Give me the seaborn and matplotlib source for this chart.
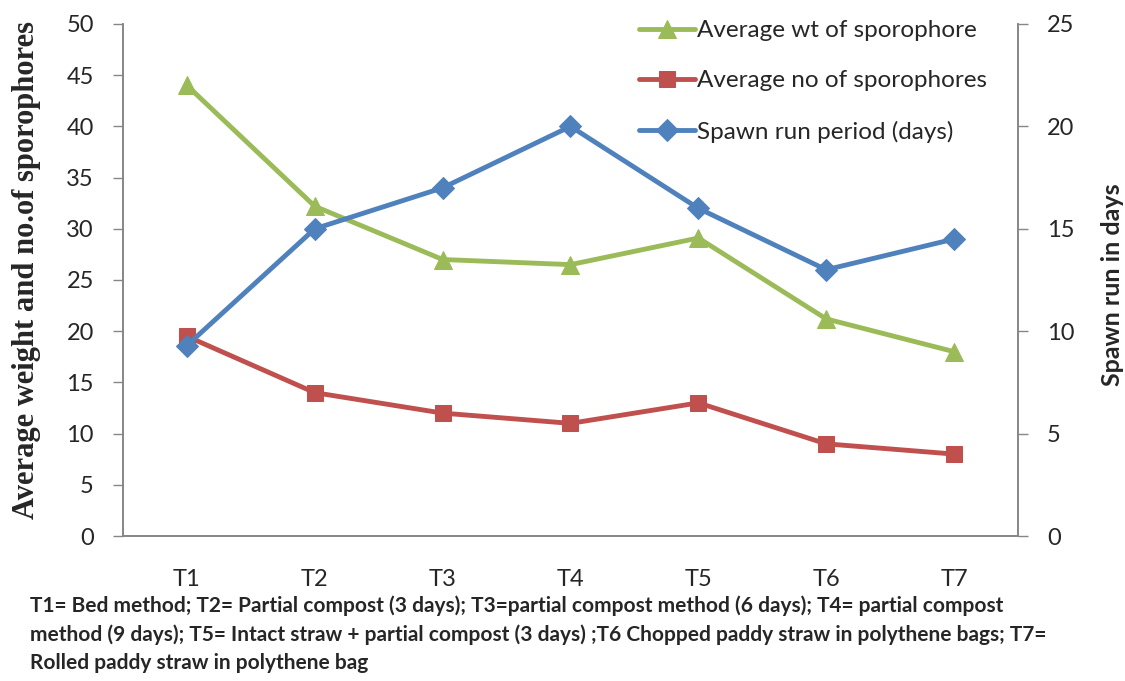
import matplotlib.pyplot as plt
import seaborn as sns
import numpy as np

categories = ["T1", "T2", "T3", "T4", "T5", "T6", "T7"]
avg_wt = [44, 32.2, 27, 26.5, 29.1, 21.2, 18]
avg_no = [19.5, 14, 12, 11, 13, 9, 8]
spawn_run = [9.3, 15, 17, 20, 16, 13, 14.5]

caption = ("T1= Bed method; T2= Partial compost (3 days); T3=partial compost method (6 days); T4= partial compost\n"
           "method (9 days); T5= Intact straw + partial compost (3 days) ;T6 Chopped paddy straw in polythene bags; T7=\n"
           "Rolled paddy straw in polythene bag")

sns.set_style("white")
plt.rcParams['font.family'] = ['Lato', 'DejaVu Sans']

GREEN, RED, BLUE = "#9BBB59", "#C0504D", "#4F81BD"
GREY = "#868686"

fig = plt.figure(figsize=(11.25, 6.81), dpi=100)
ax = fig.add_axes([0.1093, 0.2129, 0.7956, 0.7519])
ax2 = ax.twinx()

x = np.arange(len(categories))

sns.lineplot(x=x, y=avg_wt, ax=ax, color=GREEN, marker="^", markersize=13,
             markeredgecolor=GREEN, linewidth=3.5, label="Average wt of sporophore", legend=False)
sns.lineplot(x=x, y=avg_no, ax=ax, color=RED, marker="s", markersize=12,
             markeredgecolor=RED, linewidth=3.5, label="Average no of sporophores", legend=False)
sns.lineplot(x=x, y=spawn_run, ax=ax2, color=BLUE, marker="D", markersize=11,
             markeredgecolor=BLUE, linewidth=3.5, label="Spawn run period (days)", legend=False)

ax.set_xlim(-0.5, len(categories) - 0.5)
ax.set_ylim(0, 50)
ax2.set_ylim(0, 25)
ax.set_yticks(np.arange(0, 51, 5))
ax2.set_yticks(np.arange(0, 26, 5))

# category labels at centres, tick marks at boundaries
ax.set_xticks(np.arange(-0.5, len(categories)), minor=False)
ax.set_xticklabels([])
ax.set_xticks(x, minor=True)
ax.set_xticklabels(categories, minor=True)
ax.tick_params(axis="x", which="major", length=7, width=1, color=GREY, direction="out")
ax.tick_params(axis="x", which="minor", length=0, pad=24, labelsize=17)
ax.tick_params(axis="y", length=7, width=1, color=GREY, direction="out", labelsize=17, pad=14)
ax2.tick_params(axis="y", length=7, width=1, color=GREY, direction="out", labelsize=17, pad=14)

for a in (ax, ax2):
    a.spines["top"].set_visible(False)
    for s in ("left", "right", "bottom"):
        a.spines[s].set_color(GREY)
        a.spines[s].set_linewidth(1.2)

ax.set_ylabel("Average weight and no.of sporophores", fontsize=22, fontweight="bold",
              family="Liberation Serif")
ax.yaxis.set_label_coords(-0.092, 0.52)
ax2.set_ylabel("Spawn run in days", fontsize=18, fontweight="bold")
ax2.yaxis.set_label_coords(1.093, 0.49)

h1, l1 = ax.get_legend_handles_labels()
h2, l2 = ax2.get_legend_handles_labels()
ax2.legend(h1 + h2, l1 + l2, loc="upper right", bbox_to_anchor=(0.99, 1.05), frameon=False,
           fontsize=17.5, handlelength=2.3, handletextpad=0.1, labelspacing=1.2)

fig.text(0.027, 0.126, caption, fontsize=15, fontweight="bold", ha="left", va="top",
         linespacing=1.5)

fig.savefig("out.png", dpi=100)
